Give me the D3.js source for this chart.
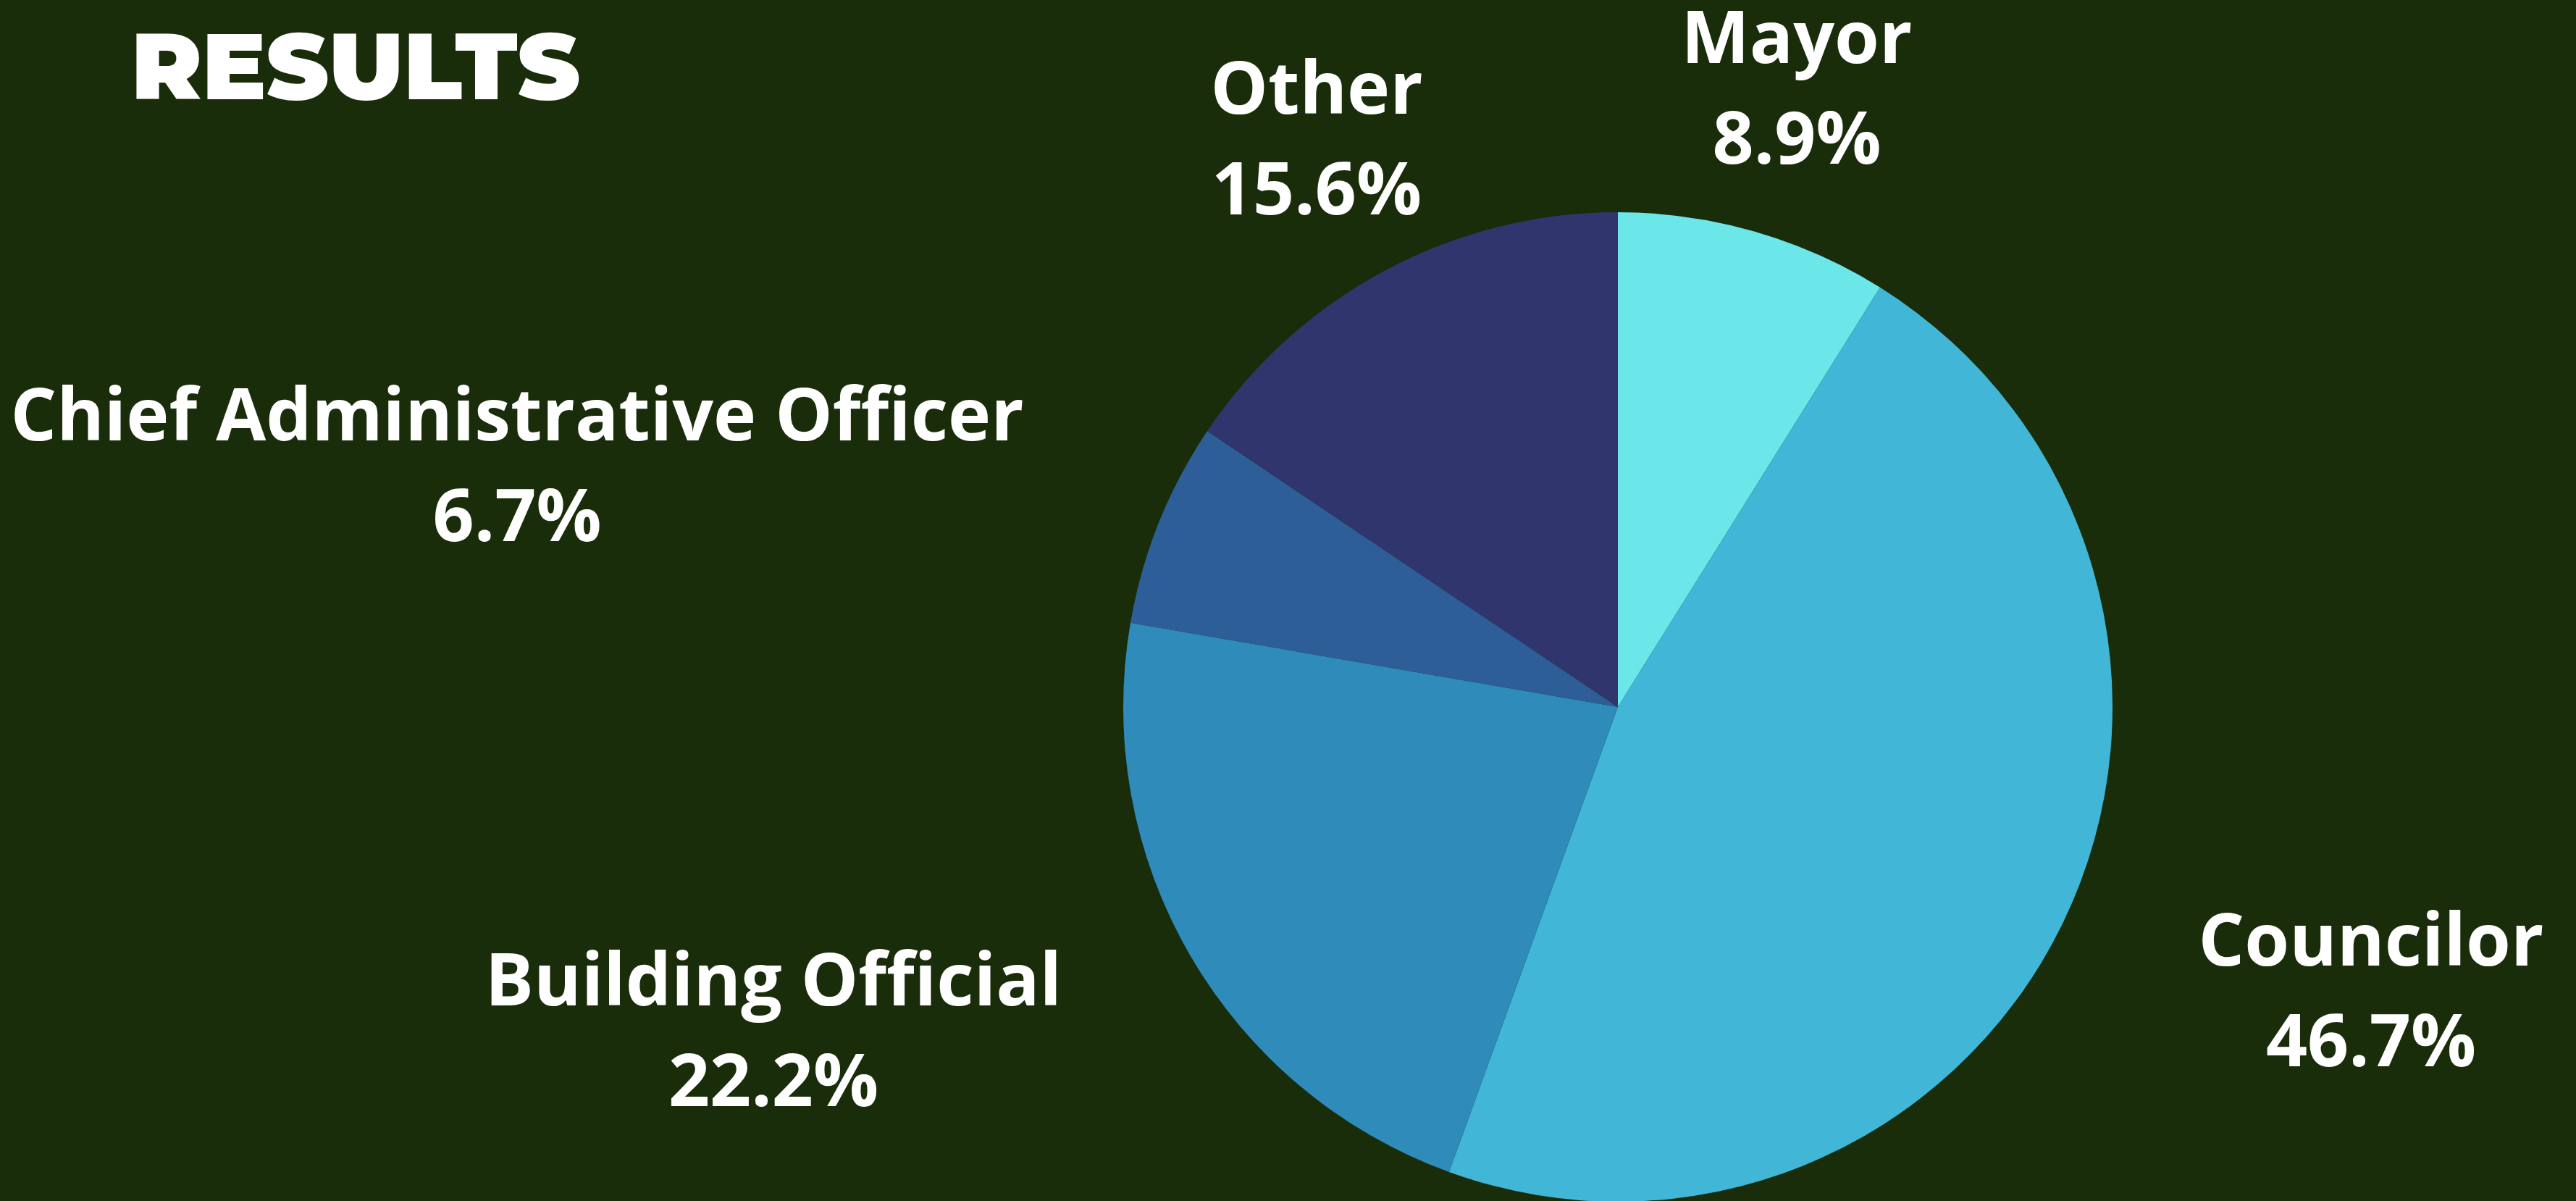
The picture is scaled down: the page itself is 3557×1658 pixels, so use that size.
<!DOCTYPE html>
<html>
<head>
<meta charset="utf-8">
<script src="https://cdn.jsdelivr.net/npm/d3@7"></script>
<style>
  html, body { margin: 0; padding: 0; background: #192d0a; }
  svg { display: block; }
</style>
</head>
<body>
<div id="chart"></div>
<script>
var w = 3557,
  h = 1658;

// data, clockwise from 12 o'clock
var categories = ["Mayor", "Councilor", "Building Official", "Chief Administrative Officer", "Other"];
var shares = [8.9, 46.7, 22.2, 6.7, 15.6];
var colors = ["#6be6e9", "#42b6d6", "#2e8bba", "#2e5e98", "#31356e"];

// where each label block sits (center x, first baseline y)
var labelPos = [[2481, 87], [3274, 1333], [1068, 1388], [714, 608], [1818, 157]];
var lineGap = 139;

var cx = 2234, cy = 976, radius = 683;

var svg = d3.select("#chart").append("svg").attr("width", w).attr("height", h);
svg.append("rect").attr("width", w).attr("height", h).attr("fill", "#192d0a");

// title
svg.append("text")
  .attr("x", 181).attr("y", 137)
  .attr("textLength", 620).attr("lengthAdjust", "spacingAndGlyphs")
  .style("font-family", "Montserrat, Inter, sans-serif")
  .style("font-weight", 900)
  .style("font-size", "129px")
  .style("fill", "#fff")
  .text("RESULTS");

var pie = d3.pie().sort(null).value(function (d) { return d; });
var arc = d3.arc().innerRadius(0).outerRadius(radius);
var color = d3.scaleOrdinal().domain(categories).range(colors);

var root = svg.append("g").attr("transform", "translate(" + cx + "," + cy + ")");
root.selectAll("path")
  .data(pie(shares))
  .enter().append("path")
  .attr("d", arc)
  .attr("fill", function (d, i) { return color(categories[i]); });

var labels = svg.append("g")
  .style("font-family", "'Open Sans', sans-serif")
  .style("font-weight", 700)
  .style("font-size", "100px")
  .style("fill", "#fff")
  .attr("text-anchor", "middle");

categories.forEach(function (name, i) {
  var p = labelPos[i];
  var t = labels.append("text").attr("x", p[0]).attr("y", p[1]);
  t.append("tspan").attr("x", p[0]).text(name);
  t.append("tspan").attr("x", p[0]).attr("dy", lineGap).text(d3.format(".1f")(shares[i]) + "%");
});
</script>
</body>
</html>
